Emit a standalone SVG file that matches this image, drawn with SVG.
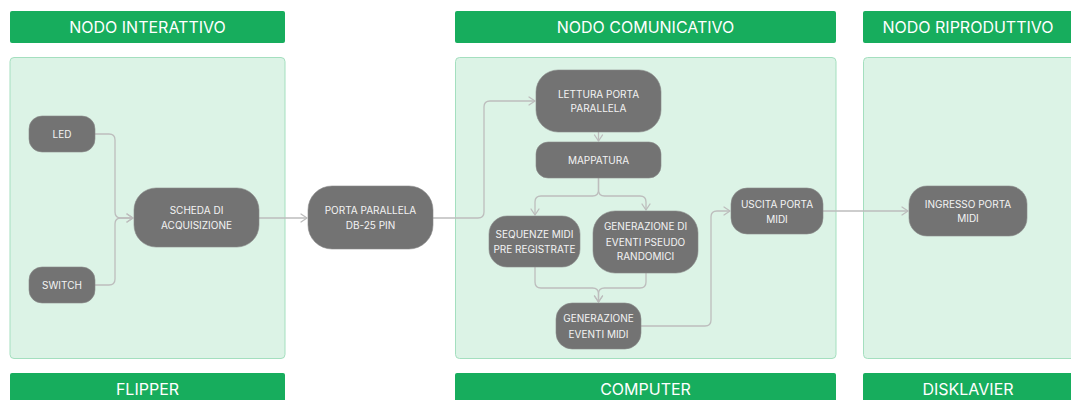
<svg xmlns="http://www.w3.org/2000/svg" width="1071" height="400" viewBox="0 0 1071 400">
<style>
.hdr{fill:#17ad5d;}
.hdrt{font-family:Inter,"Liberation Sans",sans-serif;font-size:16px;fill:#ffffff;text-anchor:middle;}
.panel{fill:#dcf3e6;stroke:#a4dfbf;stroke-width:1;}
.node{fill:#737373;stroke:#8a8a8a;stroke-width:0.6;}
.nt{font-family:Inter,"Liberation Sans",sans-serif;font-size:10px;fill:#f4f4f4;text-anchor:middle;}
.conn{fill:none;stroke:#bdbdbd;stroke-width:1.3;}
</style>
<defs>
<marker id="arr" markerUnits="userSpaceOnUse" markerWidth="12" markerHeight="12" viewBox="-8 -6 10 12" refX="0" refY="0" orient="auto">
<path d="M-6,-4 L0,0 L-6,4" fill="none" stroke="#bdbdbd" stroke-width="1.3" stroke-linecap="round" stroke-linejoin="round"/>
</marker>
</defs>
<rect width="1071" height="400" fill="#ffffff"/>
<g id="lanes">
<rect class="hdr" x="10" y="11" width="275" height="32" rx="2"/>
<text class="hdrt" x="147.5" y="33">NODO INTERATTIVO</text>
<rect class="panel" x="10" y="57.5" width="275" height="301" rx="4"/>
<rect class="hdr" x="10" y="373" width="275" height="32" rx="2"/>
<text class="hdrt" x="147.5" y="395">FLIPPER</text>

<rect class="hdr" x="455" y="11" width="381" height="32" rx="2"/>
<text class="hdrt" x="645.5" y="33">NODO COMUNICATIVO</text>
<rect class="panel" x="455.5" y="57.5" width="380.5" height="301" rx="4"/>
<rect class="hdr" x="455" y="373" width="381" height="32" rx="2"/>
<text class="hdrt" x="645.5" y="395">COMPUTER</text>

<rect class="hdr" x="863" y="11" width="212" height="32" rx="2"/>
<text class="hdrt" x="968" y="33">NODO RIPRODUTTIVO</text>
<rect class="panel" x="863.5" y="57.5" width="212" height="301" rx="4"/>
<rect class="hdr" x="863" y="373" width="212" height="32" rx="2"/>
<text class="hdrt" x="968" y="395">DISKLAVIER</text>
</g>
<g id="connectors">
<path class="conn" d="M95,134 H109 Q115,134 115,140 V212 Q115,218 121,218 H133" marker-end="url(#arr)"/>
<path class="conn" d="M95,285 H109 Q115,285 115,279 V224 Q115,218 121,218 H133" marker-end="url(#arr)"/>
<path class="conn" d="M259,218 H307" marker-end="url(#arr)"/>
<path class="conn" d="M433,218 H478 Q484,218 484,212 V107 Q484,101 490,101 H535" marker-end="url(#arr)"/>
<path class="conn" d="M598.5,132 V141" marker-end="url(#arr)"/>
<path class="conn" d="M598.5,178 V190 Q598.5,196 592.5,196 H541 Q535,196 535,202 V215" marker-end="url(#arr)"/>
<path class="conn" d="M598.5,178 V190 Q598.5,196 604.5,196 H640 Q646,196 646,202 V210" marker-end="url(#arr)"/>
<path class="conn" d="M535,267 V282 Q535,288 541,288 H592.5 Q598.5,288 598.5,294 V302" marker-end="url(#arr)"/>
<path class="conn" d="M646,273 V282 Q646,288 640,288 H604.5 Q598.5,288 598.5,294 V302" marker-end="url(#arr)"/>
<path class="conn" d="M641,326 H705 Q711,326 711,320 V217 Q711,211 717,211 H730" marker-end="url(#arr)"/>
<path class="conn" d="M823,211 H908" marker-end="url(#arr)"/>
</g>
<g id="led">
<rect class="node" x="29" y="116" width="66" height="36" rx="13"/>
<text class="nt" x="62" y="137.6">LED</text>
</g>
<g id="switch">
<rect class="node" x="29" y="267" width="66" height="36" rx="13"/>
<text class="nt" x="62" y="288.6">SWITCH</text>
</g>
<g id="scheda">
<rect class="node" x="134" y="188" width="125" height="59" rx="22"/>
<text class="nt" x="196.5" y="214.2">SCHEDA DI</text>
<text class="nt" x="196.5" y="228.8">ACQUISIZIONE</text>
</g>
<g id="porta-parallela">
<rect class="node" x="308" y="186" width="125" height="63" rx="24"/>
<text class="nt" x="370.5" y="214.3">PORTA PARALLELA</text>
<text class="nt" x="370.5" y="229.3">DB-25 PIN</text>
</g>
<g id="lettura">
<rect class="node" x="536" y="70" width="125" height="62" rx="22"/>
<text class="nt" x="598.5" y="97.6">LETTURA PORTA</text>
<text class="nt" x="598.5" y="112.3">PARALLELA</text>
</g>
<g id="mappatura">
<rect class="node" x="536" y="142" width="125" height="36" rx="12"/>
<text class="nt" x="598.5" y="163.6">MAPPATURA</text>
</g>
<g id="sequenze">
<rect class="node" x="489" y="216" width="91" height="51" rx="18"/>
<text class="nt" x="534.5" y="237.9">SEQUENZE MIDI</text>
<text class="nt" x="534.5" y="252.6">PRE REGISTRATE</text>
</g>
<g id="generazione-pseudo">
<rect class="node" x="593" y="211" width="105" height="62" rx="22"/>
<text class="nt" x="645.5" y="230.3">GENERAZIONE DI</text>
<text class="nt" x="645.5" y="245.6">EVENTI PSEUDO</text>
<text class="nt" x="645.5" y="260.3">RANDOMICI</text>
</g>
<g id="generazione-midi">
<rect class="node" x="556" y="303" width="85" height="46" rx="16"/>
<text class="nt" x="598.5" y="322.3">GENERAZIONE</text>
<text class="nt" x="598.5" y="337.6">EVENTI MIDI</text>
</g>
<g id="uscita">
<rect class="node" x="731" y="188" width="92" height="46" rx="16"/>
<text class="nt" x="777" y="207.9">USCITA PORTA</text>
<text class="nt" x="777" y="222.6">MIDI</text>
</g>
<g id="ingresso">
<rect class="node" x="909" y="186" width="118" height="50" rx="18"/>
<text class="nt" x="968" y="207.9">INGRESSO PORTA</text>
<text class="nt" x="968" y="222.3">MIDI</text>
</g>
</svg>
